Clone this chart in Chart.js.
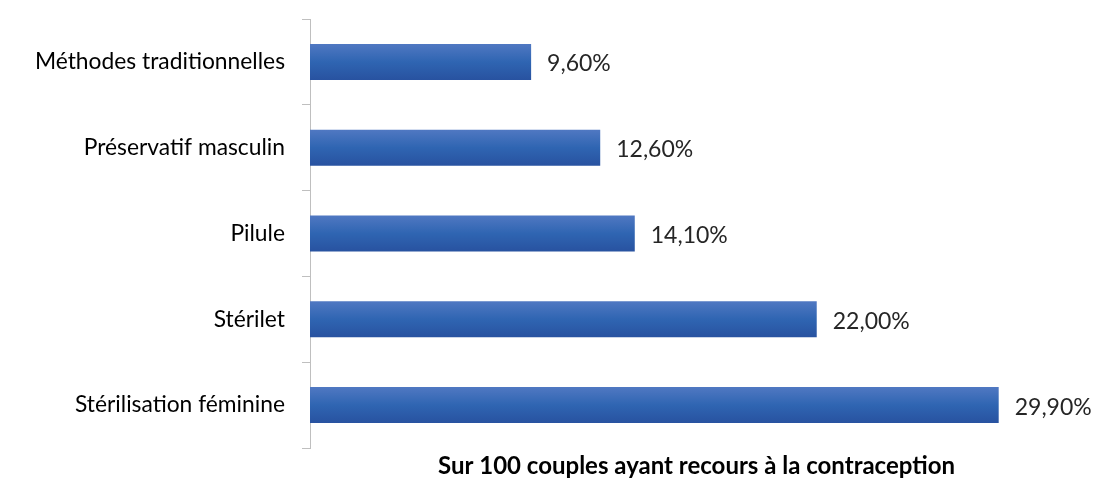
<!DOCTYPE html>
<html>
<head>
<meta charset="utf-8">
<script src="https://cdn.jsdelivr.net/npm/chart.js@4"></script>
<style>
  html, body { margin: 0; padding: 0; background: #fff; }
  #wrap { width: 1095px; height: 482px; }
</style>
</head>
<body>
<div id="wrap"><canvas id="chart" width="1095" height="482"></canvas></div>
<script>
const methods = ['Méthodes traditionnelles', 'Préservatif masculin', 'Pilule', 'Stérilet', 'Stérilisation féminine'];
const shares = [9.6, 12.6, 14.1, 22.0, 29.9];
const axisTitle = 'Sur 100 couples ayant recours à la contraception';

const FONT = 'Lato, Carlito, Calibri, sans-serif';

// vertical gradient per bar, like the office-style fill
function barFill(c) {
  const chart = c.chart;
  const yScale = chart.scales.y;
  if (!yScale || !chart.chartArea) return '#2f64b1';
  const yc = yScale.getPixelForValue(c.dataIndex);
  const half = (yScale.height / methods.length) * 0.42 / 2;
  const g = chart.ctx.createLinearGradient(0, yc - half, 0, yc + half);
  g.addColorStop(0, '#5078c2');
  g.addColorStop(0.5, '#2f65b2');
  g.addColorStop(1, '#2852a0');
  return g;
}

const valueLabels = {
  id: 'valueLabels',
  afterDatasetsDraw(chart) {
    const ctx = chart.ctx;
    const meta = chart.getDatasetMeta(0);
    ctx.save();
    ctx.font = '23px ' + FONT;
    ctx.fillStyle = '#262626';
    ctx.textBaseline = 'middle';
    ctx.textAlign = 'left';
    meta.data.forEach((bar, i) => {
      const txt = shares[i].toFixed(2).replace('.', ',') + '%';
      ctx.fillText(txt, bar.x + 16, bar.y + 2);
    });
    ctx.restore();
  }
};

// axis title centred between the plot's left edge and the right of the canvas
const bottomTitle = {
  id: 'bottomTitle',
  afterDraw(chart) {
    const ctx = chart.ctx;
    const area = chart.chartArea;
    ctx.save();
    ctx.font = 'bold 24px ' + FONT;
    ctx.fillStyle = '#000';
    ctx.textAlign = 'center';
    ctx.textBaseline = 'middle';
    ctx.fillText(axisTitle, (area.left + chart.width) / 2 - 6, area.bottom + 18);
    ctx.restore();
  }
};

new Chart(document.getElementById('chart').getContext('2d'), {
  type: 'bar',
  data: {
    labels: methods,
    datasets: [{
      data: shares,
      backgroundColor: barFill,
      borderWidth: 0,
      barPercentage: 0.42,
      categoryPercentage: 1
    }]
  },
  plugins: [valueLabels, bottomTitle],
  options: {
    indexAxis: 'y',
    responsive: false,
    animation: false,
    layout: { padding: { top: 19, right: 94, bottom: 0, left: 0 } },
    plugins: {
      legend: { display: false },
      tooltip: { enabled: false }
    },
    scales: {
      x: {
        min: 0,
        max: 30,
        afterFit(scale) {
          scale.height = 34;
          scale.paddingLeft = 0;
          scale.paddingRight = 0;
        },
        ticks: { display: false },
        grid: { display: false },
        border: { display: false }
      },
      y: {
        afterFit(scale) {
          scale.width = 310;
          scale.paddingTop = 0;
          scale.paddingBottom = 0;
        },
        grid: {
          offset: true,
          drawOnChartArea: false,
          tickLength: 8,
          color: '#bfbfbf'
        },
        border: { color: '#bfbfbf', width: 1 },
        ticks: {
          color: '#000',
          padding: 17,
          font: { family: FONT, size: 22.8 }
        }
      }
    }
  }
});
</script>
</body>
</html>
